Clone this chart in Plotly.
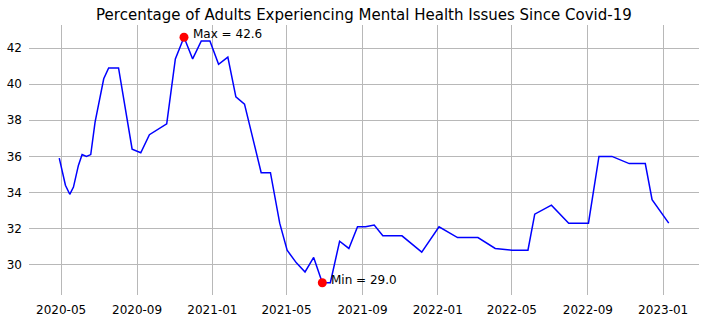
import plotly.graph_objects as go
import numpy as np

dates = [
    "2020-04-28", "2020-05-08", "2020-05-15", "2020-05-21", "2020-05-29", "2020-06-04",
    "2020-06-11", "2020-06-18", "2020-06-25", "2020-07-09", "2020-07-17", "2020-08-02",
    "2020-08-24", "2020-09-07", "2020-09-21", "2020-10-19", "2020-11-02", "2020-11-16",
    "2020-11-30", "2020-12-14", "2020-12-28", "2021-01-11", "2021-01-26", "2021-02-08",
    "2021-02-22", "2021-03-21", "2021-04-05", "2021-04-20", "2021-05-02", "2021-05-17",
    "2021-05-31", "2021-06-14", "2021-06-28", "2021-07-11", "2021-07-26", "2021-08-10",
    "2021-08-24", "2021-09-06", "2021-09-20", "2021-10-04", "2021-11-04", "2021-12-06",
    "2022-01-03", "2022-02-02", "2022-03-07", "2022-04-04", "2022-05-01", "2022-05-27",
    "2022-06-07", "2022-07-04", "2022-08-01", "2022-09-02", "2022-09-19", "2022-10-10",
    "2022-11-07", "2022-12-03", "2022-12-14", "2023-01-10",
]
values = [
    35.9, 34.4, 33.9, 34.3, 35.5, 36.1,
    36.0, 36.1, 37.9, 40.3, 40.9, 40.9,
    36.4, 36.2, 37.2, 37.8, 41.4, 42.6,
    41.4, 42.4, 42.4, 41.1, 41.5, 39.3,
    38.9, 35.1, 35.1, 32.3, 30.8, 30.1,
    29.6, 30.4, 29.0, 29.0, 31.3, 30.9,
    32.1, 32.1, 32.2, 31.6, 31.6, 30.7,
    32.1, 31.5, 31.5, 30.9, 30.8, 30.8,
    32.8, 33.3, 32.3, 32.3, 36.0, 36.0,
    35.6, 35.6, 33.6, 32.3,
]
x_ticks = ["2020-05-01", "2020-09-01", "2021-01-01", "2021-05-01", "2021-09-01",
           "2022-01-01", "2022-05-01", "2022-09-01", "2023-01-01"]
x_tick_labels = ["2020-05", "2020-09", "2021-01", "2021-05", "2021-09",
                 "2022-01", "2022-05", "2022-09", "2023-01"]
y_ticks = [30, 32, 34, 36, 38, 40, 42]
title = "Percentage of Adults Experiencing Mental Health Issues Since Covid-19"

vals = np.array(values)
imax = int(np.argmax(vals))
imin = int(np.argmin(vals))

# 5% padding like matplotlib
d = np.array(dates, dtype="datetime64[D]")
span = (d[-1] - d[0]).astype(int)
pad = np.timedelta64(int(round(span * 0.05)), "D")
xr = [str(d[0] - pad), str(d[-1] + pad)]
vspan = vals.max() - vals.min()
yr = [vals.min() - 0.05 * vspan, vals.max() + 0.05 * vspan]

fig = go.Figure()
fig.add_trace(go.Scatter(x=dates, y=values, mode="lines",
                         line=dict(color="#0000ff", width=1.5), showlegend=False))
fig.add_trace(go.Scatter(x=[dates[imax], dates[imin]], y=[values[imax], values[imin]],
                         mode="markers", marker=dict(color="#ff0000", size=9),
                         showlegend=False))

for i, lab in [(imax, "Max"), (imin, "Min")]:
    fig.add_annotation(x=dates[i], y=values[i], text=f"{lab} = {values[i]:.1f}",
                       showarrow=False, xanchor="left", yanchor="middle",
                       xshift=7, yshift=3,
                       font=dict(family="DejaVu Sans", size=12, color="black"))

fig.update_layout(
    width=706, height=324,
    margin=dict(l=29, r=7, t=25, b=27),
    paper_bgcolor="white", plot_bgcolor="white",
    font=dict(family="DejaVu Sans", size=12, color="black"),
    title=dict(text=title, x=0.5155, xanchor="center", y=0.955, yanchor="middle",
               font=dict(family="DejaVu Sans", size=15, color="black")),
    xaxis=dict(range=xr, tickvals=x_ticks, ticktext=x_tick_labels, showgrid=True,
               gridcolor="#b8b8b8", gridwidth=1, zeroline=False, showline=False,
               ticks="", ticklabelstandoff=6),
    yaxis=dict(range=yr, tickvals=y_ticks, showgrid=True, gridcolor="#b8b8b8",
               gridwidth=1, zeroline=False, showline=False, ticks="",
               ticklabelstandoff=6),
)

fig.write_html("out.html")
